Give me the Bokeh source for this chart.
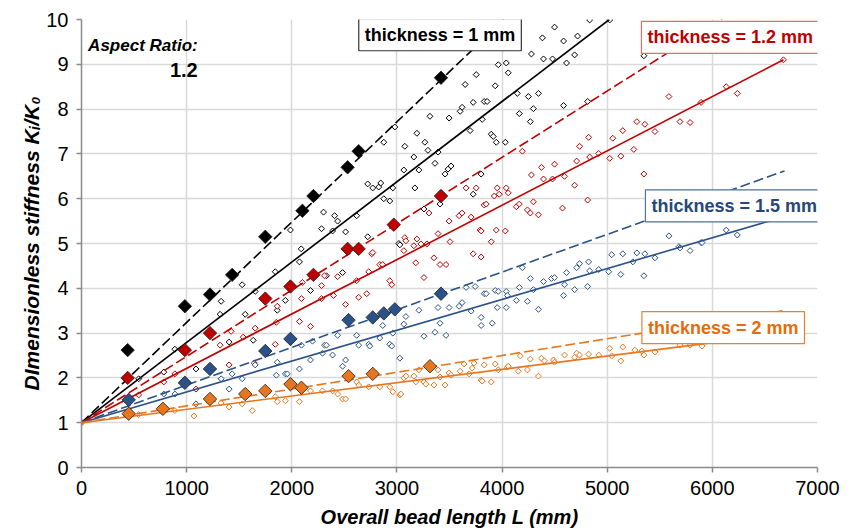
import numpy as np
from bokeh.plotting import figure
from bokeh.models import Range1d, FixedTicker, Label
from bokeh.embed import file_html
from bokeh.resources import INLINE

# ---------------- data ----------------
x_ticks = [0, 1000, 2000, 3000, 4000, 5000, 6000, 7000]
y_ticks = [0, 1, 2, 3, 4, 5, 6, 7, 8, 9, 10]

# small open diamonds (individual results)
black_open_x = [0, 544, 783, 888, 1089, 1318, 1328, 1404, 1528, 1557, 1633, 1652, 1843, 1862, 1939, 1987, 2073, 2090, 2178,
                2283, 2302, 2330, 2388, 2407, 2436, 2483, 2512, 2617, 2722, 2722, 2770, 2827, 2846, 2875, 2875, 2932, 2961,
                2980, 3018, 3028, 3066, 3075, 3161, 3171, 3190, 3209, 3257, 3266, 3295, 3314, 3362, 3391, 3410, 3458, 3486,
                3515, 3496, 3601, 3620, 3649, 3696, 3725, 3725, 3754, 3801, 3811, 3830, 3858, 3897, 3916, 3935, 3945, 3964,
                4031, 4040, 4059, 4145, 4164, 4250, 4269, 4279, 4298, 4346, 4384, 4394, 4480, 4499, 4585, 4585, 4613, 4690,
                4718, 4814, 4833, 5024, 5349]
black_open_y = [1.0, 1.98, 2.13, 2.64, 2.2, 3.42, 3.71, 2.8, 4.08, 3.42, 2.84, 3.93, 4.37, 3.51, 3.73, 5.3, 4.59, 4.88, 3.95,
                5.33, 5.7, 4.28, 5.28, 5.62, 5.5, 4.35, 5.26, 5.62, 5.15, 6.33, 6.24, 6.26, 6.35, 6.0, 7.26, 5.95, 6.24,
                7.6, 5.0, 4.97, 6.64, 7.17, 6.93, 6.24, 7.46, 6.64, 5.77, 7.26, 7.08, 7.84, 6.79, 7.04, 5.88, 6.55, 6.66,
                6.73, 7.8, 7.95, 8.04, 8.55, 7.52, 8.15, 6.1, 8.77, 6.55, 7.77, 8.17, 8.17, 7.44, 7.39, 8.52, 7.26, 8.99,
                7.26, 9.03, 8.81, 8.35, 7.9, 8.28, 7.72, 9.23, 8.01, 8.35, 9.59, 9.12, 9.12, 9.83, 9.52, 8.08, 9.03, 9.21,
                9.63, 8.17, 9.99, 9.99, 9.19]

red_open_x = [0, 544, 783, 888, 1089, 1318, 1404, 1423, 1538, 1643, 1652, 1843, 1853, 1862, 2073, 2092, 2101, 2178, 2283,
              2283, 2311, 2397, 2436, 2512, 2617, 2636, 2713, 2732, 2760, 2770, 2837, 2865, 2932, 2951, 3066, 3075, 3085,
              3161, 3180, 3190, 3228, 3257, 3286, 3305, 3352, 3391, 3410, 3467, 3496, 3505, 3591, 3620, 3658, 3706, 3725,
              3754, 3792, 3801, 3801, 3830, 3849, 3897, 3926, 3945, 3954, 3973, 4031, 4040, 4059, 4136, 4164, 4193, 4241,
              4269, 4279, 4298, 4346, 4375, 4394, 4480, 4499, 4575, 4594, 4690, 4709, 4737, 4814, 4823, 4833, 4919, 5024,
              5053, 5130, 5148, 5253, 5282, 5349, 5358, 5454, 5587, 5692, 5788, 5893, 6132, 6237, 6676]
red_open_y = [1.0, 1.62, 1.91, 2.09, 1.75, 2.73, 2.29, 3.04, 2.91, 2.33, 3.11, 2.75, 3.24, 3.6, 3.26, 3.77, 4.13, 3.15, 4.06,
              3.77, 4.28, 3.84, 4.26, 3.64, 4.17, 3.8, 3.88, 4.37, 4.77, 4.8, 4.53, 4.53, 4.17, 4.08, 4.84, 5.13, 5.06,
              4.95, 4.57, 5.1, 4.99, 4.24, 4.99, 5.68, 4.68, 5.22, 4.53, 4.53, 5.5, 5.04, 5.62, 5.68, 6.24, 5.59, 4.77,
              6.24, 5.3, 4.7, 5.28, 5.86, 5.88, 5.04, 6.06, 5.3, 6.24, 6.1, 5.28, 6.24, 6.13, 5.82, 5.88, 7.06, 5.75,
              5.68, 6.53, 5.93, 5.64, 6.7, 6.44, 6.44, 6.77, 5.79, 6.5, 6.3, 6.84, 7.17, 5.97, 7.37, 6.93, 7.01, 6.9,
              7.35, 6.95, 7.52, 7.1, 7.72, 6.55, 7.66, 7.5, 8.28, 7.72, 7.7, 8.15, 8.5, 8.35, 9.1]

blue_open_x = [0, 783, 888, 1089, 1328, 1404, 1433, 1528, 1652, 1853, 1862, 1939, 1958, 2073, 2092, 2178, 2197, 2292, 2311,
               2330, 2388, 2436, 2483, 2512, 2617, 2636, 2732, 2741, 2837, 2865, 2932, 2951, 2961, 3028, 3066, 3085, 3209,
               3257, 3362, 3391, 3410, 3467, 3496, 3591, 3620, 3658, 3706, 3744, 3801, 3801, 3830, 3849, 3906, 3935, 3964,
               3954, 4040, 4040, 4050, 4136, 4164, 4193, 4241, 4269, 4298, 4346, 4394, 4470, 4499, 4594, 4585, 4613, 4690,
               4709, 4737, 4814, 4823, 4833, 4919, 5014, 5043, 5129, 5148, 5244, 5282, 5349, 5358, 5454, 5587, 5683, 5692,
               5788, 5893, 5902, 6132, 6237]
blue_open_y = [1.0, 1.64, 1.64, 1.42, 1.98, 1.75, 2.09, 1.98, 2.29, 2.06, 2.35, 2.09, 2.09, 2.2, 2.73, 2.4, 2.82, 2.55, 2.73,
               2.73, 2.51, 2.95, 2.26, 2.4, 2.95, 2.73, 2.75, 2.71, 2.89, 3.17, 2.75, 2.71, 3.0, 2.44, 3.2, 3.37, 3.51,
               2.93, 3.02, 3.57, 3.22, 2.95, 3.57, 3.6, 3.68, 4.02, 3.49, 4.04, 3.35, 3.17, 3.88, 3.88, 3.22, 3.95, 3.93,
               3.57, 3.93, 3.57, 3.84, 3.73, 4.02, 4.46, 3.71, 4.22, 3.97, 3.53, 4.15, 4.22, 4.24, 4.08, 3.84, 4.35, 3.97,
               4.46, 4.55, 4.04, 4.59, 4.39, 4.42, 4.37, 4.75, 4.31, 4.77, 4.59, 4.79, 4.28, 4.77, 4.68, 5.17, 4.93, 4.9,
               4.84, 5.02, 5.02, 5.3, 5.19]

orange_open_x = [0, 544, 888, 1070, 1328, 1404, 1528, 1624, 1843, 1862, 1939, 2073, 2178, 2292, 2388, 2436, 2483, 2512, 2617,
                 2636, 2732, 2837, 2932, 2961, 3028, 3066, 3037, 3085, 3161, 3180, 3209, 3257, 3276, 3352, 3391, 3410, 3458,
                 3496, 3515, 3601, 3639, 3687, 3716, 3734, 3801, 3811, 3830, 3897, 3935, 3964, 4050, 4059, 4155, 4174, 4241,
                 4269, 4346, 4375, 4403, 4489, 4499, 4594, 4690, 4709, 4737, 4823, 4919, 5024, 5043, 5129, 5148, 5263, 5329,
                 5349, 5454, 5692, 5788, 5902]
orange_open_y = [1.0, 1.18, 1.27, 1.15, 1.44, 1.35, 1.42, 1.27, 1.58, 1.47, 1.49, 1.47, 1.71, 1.71, 1.71, 1.64, 1.53, 1.53, 1.91,
                 1.84, 1.8, 1.8, 1.8, 1.69, 1.62, 2.0, 1.64, 2.04, 2.04, 1.91, 2.18, 1.91, 1.86, 1.84, 2.18, 2.02, 1.84,
                 2.11, 2.06, 2.15, 2.31, 2.09, 2.22, 2.33, 1.95, 1.93, 2.29, 1.91, 2.31, 2.18, 2.24, 2.26, 2.15, 2.49, 2.18,
                 2.42, 2.04, 2.44, 2.38, 2.4, 2.35, 2.51, 2.46, 2.55, 2.51, 2.53, 2.51, 2.66, 2.49, 2.38, 2.69, 2.62, 2.6,
                 2.51, 2.58, 2.73, 2.73, 2.71]

# large filled diamonds
black_big_x = [439, 983, 1222, 1433, 1748, 2101, 2206, 2531, 2636, 3419]
black_big_y = [2.62, 3.6, 3.86, 4.3, 5.15, 5.73, 6.06, 6.7, 7.06, 8.7]
red_big_x = [439, 983, 1222, 1748, 1987, 2206, 2531, 2636, 2970, 3419]
red_big_y = [2.0, 2.62, 3.0, 3.77, 4.04, 4.3, 4.88, 4.88, 5.42, 6.06]
blue_big_x = [449, 983, 1222, 1748, 1987, 2540, 2770, 2875, 2980, 3419]
blue_big_y = [1.51, 1.89, 2.2, 2.6, 2.87, 3.29, 3.35, 3.44, 3.53, 3.88]
orange_big_x = [449, 774, 1222, 1557, 1748, 1987, 2092, 2540, 2770, 3314]
orange_big_y = [1.2, 1.31, 1.53, 1.64, 1.71, 1.86, 1.78, 2.04, 2.09, 2.26]

# trend lines
black_fit_x, black_fit_y = [0, 5020], [1, 10]
black_dash_x, black_dash_y = [0, 4020], [1, 10]
red_fit_x, red_fit_y = [0, 6676], [1, 9.1]
red_dash_x, red_dash_y = [0, 6132], [1, 10.08]
blue_fit_x, blue_fit_y = [0, 6686], [1, 5.6]
blue_dash_x, blue_dash_y = [0, 6686], [1, 6.62]
orange_fit_x, orange_fit_y = [0, 6650], [1, 2.98]
orange_dash_x, orange_dash_y = [0, 6667], [1, 3.5]

# ---------------- styling ----------------
C_BLACK = "#000000"
C_RED = "#C00000"
C_BLUE = "#2B5288"
C_ORANGE = "#E8761E"
FONT = "Liberation Sans"
ANG = np.pi / 4

p = figure(width=847, height=530, output_backend="svg", toolbar_location=None,
           x_range=Range1d(0, 7000), y_range=Range1d(0, 10),
           min_border_left=81, min_border_right=30, min_border_top=19, min_border_bottom=61)
p.outline_line_color = None
p.background_fill_color = "white"

p.xaxis.ticker = FixedTicker(ticks=x_ticks)
p.yaxis.ticker = FixedTicker(ticks=y_ticks)
for ax in (p.xaxis, p.yaxis):
    ax.axis_line_color = "#8a8a8a"
    ax.axis_line_width = 1.5
    ax.major_tick_line_color = "#8a8a8a"
    ax.major_tick_line_width = 1.5
    ax.major_tick_out = 5
    ax.major_tick_in = 0
    ax.minor_tick_line_color = None
    ax.major_label_text_font = FONT
    ax.major_label_text_font_size = "20px"
    ax.major_label_text_color = "#000000"
    ax.axis_label_text_font = FONT
    ax.axis_label_text_font_style = "bold italic"
    ax.axis_label_text_color = "#000000"
p.xaxis.axis_label_text_font_size = "20px"
p.yaxis.axis_label_text_font_size = "21px"
p.xaxis.axis_label = "Overall bead length L (mm)"
p.yaxis.axis_label = "DImensionless stiffness K\u1d62/K\u2080"
p.xaxis.major_label_standoff = 8
p.yaxis.major_label_standoff = 8
p.xaxis.axis_label_standoff = 8
p.yaxis.axis_label_standoff = 0

for g in (p.xgrid, p.ygrid):
    g.grid_line_color = "#d9d9d9"
    g.grid_line_width = 1.5

series = [
    (C_BLACK, black_open_x, black_open_y, black_big_x, black_big_y, black_fit_x, black_fit_y, black_dash_x, black_dash_y),
    (C_RED, red_open_x, red_open_y, red_big_x, red_big_y, red_fit_x, red_fit_y, red_dash_x, red_dash_y),
    (C_BLUE, blue_open_x, blue_open_y, blue_big_x, blue_big_y, blue_fit_x, blue_fit_y, blue_dash_x, blue_dash_y),
    (C_ORANGE, orange_open_x, orange_open_y, orange_big_x, orange_big_y, orange_fit_x, orange_fit_y, orange_dash_x, orange_dash_y),
]

for col, ox, oy, bx, by, fx, fy, dx, dy in series:
    p.scatter(ox, oy, marker="square", angle=ANG, size=4.2, fill_color="white", line_color=col, line_width=1)
for col, ox, oy, bx, by, fx, fy, dx, dy in series:
    p.line(fx, fy, line_color=col, line_width=1.6)
    p.line(dx, dy, line_color=col, line_width=1.6, line_dash="10 4")
for col, ox, oy, bx, by, fx, fy, dx, dy in series:
    p.scatter(bx, by, marker="square", angle=ANG, size=9.5, fill_color=col, line_color="#1a1a1a", line_width=0.8)

def box_label(x, y, text, color, border):
    p.add_layout(Label(x=x, y=y, text=text, text_align="center", text_baseline="middle",
                       text_font=FONT, text_font_style="bold", text_font_size="18px", text_color=color,
                       background_fill_color="white", border_line_color=border, border_line_width=1.2,
                       padding=6))

box_label(3410, 9.66, "thickness = 1 mm", "#000000", "#333333")
box_label(6170, 9.60, "thickness = 1.2 mm", C_RED, "#D87070")
box_label(6208, 5.84, "thickness = 1.5 mm", "#24487A", "#50709A")
box_label(6103, 3.12, "thickness = 2 mm", "#E46C0A", "#E8822E")

p.add_layout(Label(x=1105, y=9.41, text="Aspect Ratio:", text_align="right", text_baseline="middle",
                   text_font=FONT, text_font_style="bold italic", text_font_size="17px", text_color="#000000"))
p.add_layout(Label(x=1105, y=8.88, text="1.2", text_align="right", text_baseline="middle",
                   text_font=FONT, text_font_style="bold", text_font_size="20px", text_color="#000000"))

open("out.html", "w").write(file_html(p, INLINE))
